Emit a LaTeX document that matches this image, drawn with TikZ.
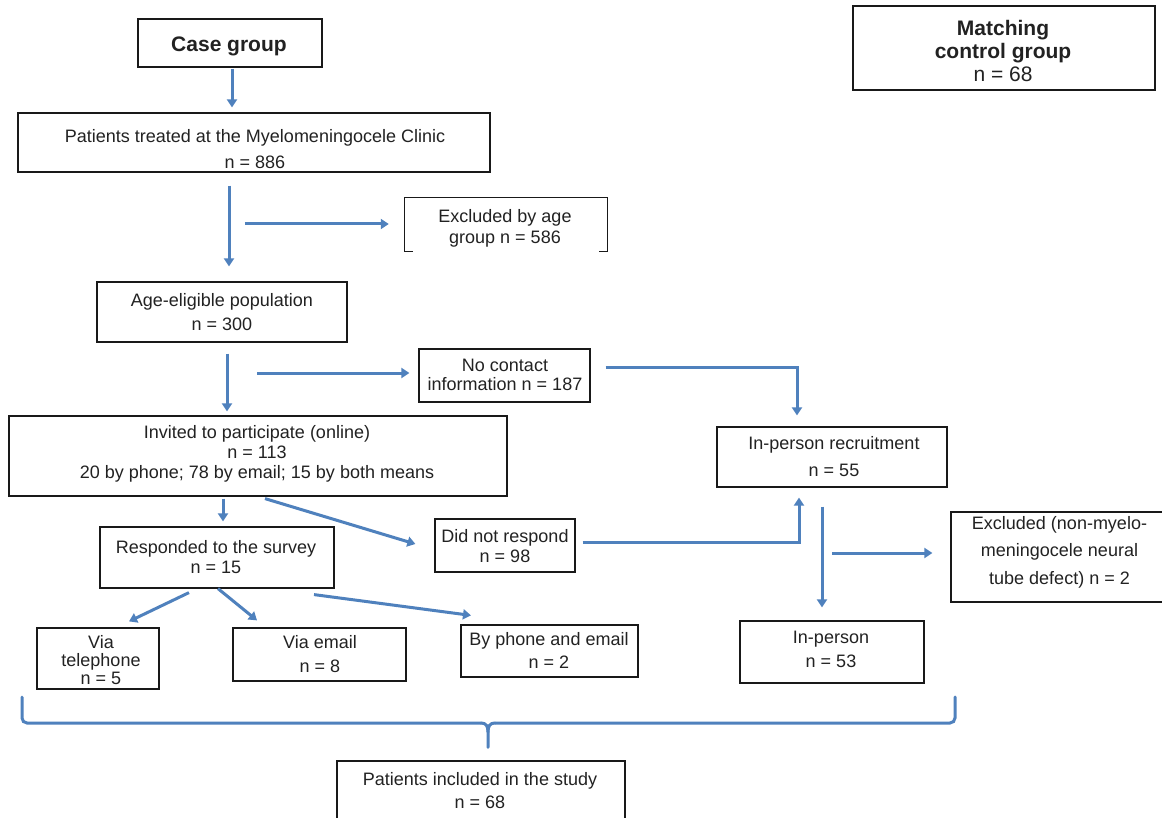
\documentclass[tikz,border=0pt]{standalone}
\usepackage{fontspec}
\setmainfont{Liberation Sans}
\usetikzlibrary{arrows.meta,calc}
\definecolor{arrblue}{HTML}{4F81BD}
\definecolor{txtcol}{HTML}{222222}
\tikzset{
  box/.style={draw=black!90, line width=1.2pt, fill=white, inner sep=0pt},
  txt/.style={inner sep=0pt, align=center, anchor=north, text=txtcol},
  arr/.style={draw=arrblue, line width=3pt, -{Triangle[length=8pt,width=10pt]}},
  bracestyle/.style={draw=arrblue, line width=3pt, line cap=round},
}
\newcommand{\fs}[1]{\fontsize{18}{#1}\selectfont}
\newcommand{\st}{\rule{0pt}{18pt}}
\begin{document}
\begin{tikzpicture}[x=1pt,y=-1pt]
\useasboundingbox (0,0) rectangle (1162,818);
\clip (0,0) rectangle (1162,818);
\fill[white] (0,0) rectangle (1162,818);

% boxes
\node[box, minimum width=184, minimum height=48] (case) at (230,43) {};
\node[box, minimum width=302, minimum height=84] (match) at (1004,48) {};
\node[box, minimum width=472, minimum height=59] (pat) at (254,142.5) {};
\node[inner sep=0pt, minimum width=202, minimum height=53] (exage) at (506,224.5) {};
\draw[black!90, line width=1.2pt] ([xshift=8pt]exage.south west) -- (exage.south west) -- (exage.north west) -- (exage.north east) -- (exage.south east) -- ([xshift=-8pt]exage.south east);
\node[box, minimum width=250, minimum height=60] (age) at (222,312) {};
\node[box, minimum width=171, minimum height=53] (nocon) at (504.5,375.5) {};
\node[box, minimum width=498, minimum height=80] (inv) at (258,456) {};
\node[box, minimum width=230, minimum height=60] (ipr) at (832,457) {};
\node[box, minimum width=234, minimum height=61] (resp) at (217,557.5) {};
\node[box, minimum width=140, minimum height=53] (dnr) at (505,545.5) {};
\node[box, minimum width=217, minimum height=90] (excl) at (1059.5,557) {};
\node[box, minimum width=184, minimum height=62] (ip) at (832,652) {};
\node[box, minimum width=122, minimum height=61] (tel) at (98,658.5) {};
\node[box, minimum width=173, minimum height=53] (email) at (319.5,654.5) {};
\node[box, minimum width=177, minimum height=52] (both) at (549.5,651) {};
\node[box, minimum width=288, minimum height=69] (incl) at (481,795.5) {};

% texts
\node[txt, font=\fontsize{21}{23}\selectfont\bfseries] (case-t) at (229,33) {\st Case group};
\node[txt, font=\fontsize{21}{23}\selectfont] (match-t) at (1003,17.5) {\st\textbf{Matching}\\\textbf{control group}\\n = 68};
\node[txt, font=\fs{26}] (pat-t) at (255,124) {\st Patients treated at the Myelomeningocele Clinic\\n = 886};
\node[txt, font=\fs{21}] (exage-t) at (505,204) {\st Excluded by age\\group n = 586};
\node[txt, font=\fs{24}] (age-t) at (222,288) {\st Age-eligible population\\n = 300};
\node[txt, font=\fs{19}] (nocon-t) at (505,353.5) {\st No contact\\information n = 187};
\node[txt, font=\fs{20}] (inv-t) at (257,420) {\st Invited to participate (online)\\n = 113\\20 by phone; 78 by email; 15 by both means};
\node[txt, font=\fs{27.5}] (ipr-t) at (834,431) {\st In-person recruitment\\n = 55};
\node[txt, font=\fs{20}] (resp-t) at (216,535) {\st Responded to the survey\\n = 15};
\node[txt, font=\fs{20.5}] (dnr-t) at (505,524) {\st Did not respond\\n = 98};
\node[txt, font=\fs{27.5}] (excl-t) at (1059.5,511) {\st Excluded (non-myelo-\\meningocele neural\\tube defect) n = 2};
\node[txt, font=\fs{24}] (ip-t) at (831,625) {\st In-person\\n = 53};
\node[txt, font=\fs{18}] (tel-t) at (101,630) {\st Via\\telephone\\n = 5};
\node[txt, font=\fs{24}] (email-t) at (320,630) {\st Via email\\n = 8};
\node[txt, font=\fs{23}] (both-t) at (549,627) {\st By phone and email\\n = 2};
\node[txt, font=\fs{23.5}] (incl-t) at (480,767) {\st Patients included in the study\\n = 68};

% connectors
\draw[arr] ($(case.south)+(2,1)$) -- ($(pat.north)+(-22,-5)$);
\draw[arr] ($(pat.south)+(-25,13)$) -- ($(age.north)+(7,-15)$);
\coordinate (exa-s) at ($(exage.west)+(-160,-0.5)$);
\draw[arr] (exa-s) -- ($(exage.west)+(-16,-0.5)$);
\draw[arr] ($(age.south)+(5,11)$) -- ($(inv.north)+(-31,-4)$);
\coordinate (noc-s) at ($(nocon.west)+(-161,-2.5)$);
\draw[arr] (noc-s) -- ($(nocon.west)+(-9,-2.5)$);
\draw[arr] ($(nocon.east)+(15,-8.5)$) -| ($(ipr.north)+(-35,-11)$);
\draw[arr] ($(inv.south)+(-35,2)$) -- ($(resp.north)+(6,-5)$);
\draw[arr] ($(inv.south)+(7,2)$) -- ($(dnr.west)+(-19,-1.5)$);
\draw[arr] ($(dnr.east)+(7,-3.5)$) -| ($(ipr.south)+(-33,10)$);
\draw[arr] ($(ipr.south)+(-10,19)$) -- ($(ip.north)+(-10,-13)$);
\coordinate (exc-s) at ($(excl.west)+(-118,-4)$);
\draw[arr] (exc-s) -- ($(excl.west)+(-18,-4)$);
\draw[arr] ($(resp.south)+(-28,4)$) -- ($(tel.north)+(31,-6)$);
\draw[arr] ($(resp.south)+(1,0)$) -- ($(email.north)+(-62.5,-7)$);
\draw[arr] ($(resp.south)+(97,6)$) -- ($(both.north)+(-78.5,-9)$);

% brace
\draw[bracestyle, rounded corners=5pt] (22,697) -- (22,723) -- (481,723);
\draw[bracestyle] (481,723) .. controls (486,723) and (488,726) .. (488,732) -- ($(incl.north)+(7,-13)$);
\draw[bracestyle, rounded corners=5pt] (955,697) -- (955,723) -- (495,723);
\draw[bracestyle] (495,723) .. controls (490,723) and (488,726) .. (488,732);
\end{tikzpicture}
\end{document}
